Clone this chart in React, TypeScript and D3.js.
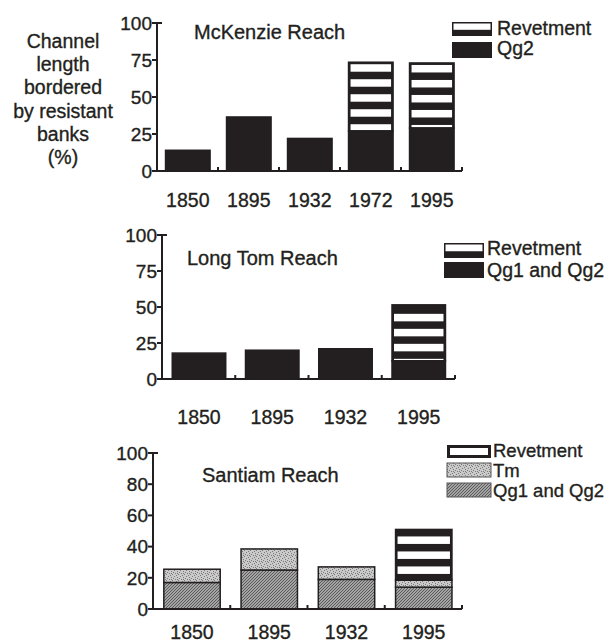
import React, { useEffect, useRef } from 'react';
import * as d3 from 'd3';

// McKenzie Reach
const mckenzieYears = ['1850', '1895', '1932', '1972', '1995'];
const mckenzieQg2 = [14, 36.5, 22, 27, 29];
const mckenzieRevetment = [0, 0, 0, 46.5, 44];
const mckenzieTicks = [0, 25, 50, 75, 100];

// Long Tom Reach
const longTomYears = ['1850', '1895', '1932', '1995'];
const longTomQg = [18, 20, 21, 12.5];
const longTomRevetment = [0, 0, 0, 39];
const longTomTicks = [0, 25, 50, 75, 100];

// Santiam Reach
const santiamYears = ['1850', '1895', '1932', '1995'];
const santiamQg = [17, 25, 19, 14];
const santiamTm = [8.5, 13.5, 8, 4.5];
const santiamRevetment = [0, 0, 0, 32.5];
const santiamTicks = [0, 20, 40, 60, 80, 100];

const yLabelLines = ['Channel', 'length', 'bordered', 'by resistant', 'banks', '(%)'];

const INK = '#231f20';
const FONT = '"Liberation Sans", Arial, Helvetica, sans-serif';

// series are listed bottom-to-top in stack order
const panels = [
  {
    title: 'McKenzie Reach',
    years: mckenzieYears,
    ticks: mckenzieTicks,
    series: [
      { key: 'qg', label: 'Qg2', values: mckenzieQg2 },
      { key: 'rev', label: 'Revetment', values: mckenzieRevetment },
    ],
    solidQg: true,
    x0: 157, x1: 462, yTop: 23, yBottom: 171,
    titleX: 194, titleY: 32, yearY: 200,
    stripeOffset: 2,
    legendX: 452, legendW: 40, legendTextX: 497, legendFs: 19.5,
    legendY: [22, 42], legendH: [14, 16], legendTextY: [28, 48],
    revLegend: 'half',
  },
  {
    title: 'Long Tom Reach',
    years: longTomYears,
    ticks: longTomTicks,
    series: [
      { key: 'qg', label: 'Qg1 and Qg2', values: longTomQg },
      { key: 'rev', label: 'Revetment', values: longTomRevetment },
    ],
    solidQg: true,
    x0: 162, x1: 455, yTop: 235, yBottom: 379,
    titleX: 187, titleY: 258, yearY: 417,
    stripeOffset: 9,
    legendX: 444, legendW: 40, legendTextX: 487, legendFs: 19.5,
    legendY: [243, 262], legendH: [15, 16], legendTextY: [248, 270],
    revLegend: 'half',
  },
  {
    title: 'Santiam Reach',
    years: santiamYears,
    ticks: santiamTicks,
    series: [
      { key: 'qg', label: 'Qg1 and Qg2', values: santiamQg },
      { key: 'tm', label: 'Tm', values: santiamTm },
      { key: 'rev', label: 'Revetment', values: santiamRevetment },
    ],
    solidQg: false,
    x0: 153, x1: 462, yTop: 453, yBottom: 609,
    titleX: 202, titleY: 475, yearY: 632,
    stripeOffset: 7,
    legendX: 447, legendW: 44, legendTextX: 493, legendFs: 18.5,
    legendY: [445, 463, 483], legendH: [13, 14, 14], legendTextY: [450, 470, 490],
    revLegend: 'frame',
  },
];

const App = () => {
  const svgRef = useRef(null);

  useEffect(() => {
    const svg = d3.select(svgRef.current);
    svg.selectAll('*').remove();

    const txt = (sel, fs) => sel
      .attr('font-family', FONT).attr('font-size', fs).attr('fill', INK)
      .attr('stroke', INK).attr('stroke-width', 0.35);

    // stipple textures for Tm and Qg
    const defs = svg.append('defs');
    const tm = defs.append('pattern').attr('id', 'pat-tm')
      .attr('patternUnits', 'userSpaceOnUse').attr('width', 6).attr('height', 6);
    tm.append('rect').attr('width', 6).attr('height', 6).attr('fill', '#cacaca');
    [[0, 0], [3, 1], [5, 2], [1, 3], [4, 4], [2, 5], [3, 3]].forEach(([a, b]) =>
      tm.append('rect').attr('x', a).attr('y', b).attr('width', 1).attr('height', 1).attr('fill', '#7a7a7a'));
    const qg = defs.append('pattern').attr('id', 'pat-qg')
      .attr('patternUnits', 'userSpaceOnUse').attr('width', 6).attr('height', 6);
    qg.append('rect').attr('width', 6).attr('height', 6).attr('fill', '#a4a4a4');
    [[5, 0], [2, 0], [4, 1], [1, 1], [3, 2], [0, 2], [5, 3], [2, 3], [1, 4], [4, 4], [0, 5], [3, 5]]
      .forEach(([a, b]) =>
        qg.append('rect').attr('x', a).attr('y', b).attr('width', 1).attr('height', 1).attr('fill', '#5a5a5a'));

    // y axis title
    txt(svg.append('text'), 19.5)
      .attr('text-anchor', 'middle')
      .selectAll('tspan')
      .data(yLabelLines)
      .join('tspan')
      .attr('x', 63)
      .attr('y', (d, i) => 48 + i * 23.2)
      .text(d => d);

    const fillFor = (p, key) => {
      if (key === 'tm') return 'url(#pat-tm)';
      if (key === 'qg') return p.solidQg ? INK : 'url(#pat-qg)';
      return INK;
    };

    panels.forEach(p => {
      const g = svg.append('g');
      const x = d3.scaleBand().domain(p.years).range([p.x0, p.x1]);
      const y = d3.scaleLinear().domain([0, 100]).range([p.yBottom, p.yTop]);
      const step = x.step();
      const barX = d => x(d) + step * 0.14;
      const barW = step * 0.73;

      const rows = p.years.map((yr, i) => {
        const r = { year: yr };
        p.series.forEach(s => { r[s.key] = s.values[i]; });
        return r;
      });
      const stacked = d3.stack().keys(p.series.map(s => s.key))(rows);

      stacked.forEach(layer => {
        layer.forEach(d => {
          const top = y(d[1]);
          const bot = y(d[0]);
          if (bot - top <= 0) return;
          const bx = barX(d.data.year);
          g.append('rect')
            .attr('x', bx).attr('y', top).attr('width', barW).attr('height', bot - top)
            .attr('fill', fillFor(p, layer.key))
            .attr('stroke', INK).attr('stroke-width', 1.5);
          if (layer.key === 'rev') {
            // horizontal white stripes of the revetment
            for (let s = top + p.stripeOffset; s < bot - 1.5; s += 15) {
              const s0 = Math.max(s, top + 1.5);
              const s1 = Math.min(s + 7.5, bot - 1);
              if (s1 - s0 < 0.8) continue;
              g.append('rect')
                .attr('x', bx + 2).attr('y', s0).attr('width', barW - 4).attr('height', s1 - s0)
                .attr('fill', '#fff');
            }
          }
        });
      });

      // y axis
      g.append('line')
        .attr('x1', p.x0).attr('x2', p.x0).attr('y1', y(0)).attr('y2', y(100))
        .attr('stroke', INK).attr('stroke-width', 2);
      g.selectAll('.ytick')
        .data(p.ticks)
        .join('line')
        .attr('x1', p.x0 - 5).attr('x2', d => (d === 100 ? p.x0 + 5 : p.x0))
        .attr('y1', d => y(d)).attr('y2', d => y(d))
        .attr('stroke', INK).attr('stroke-width', 2);
      txt(g.selectAll('.ylab').data(p.ticks).join('text'), 19)
        .attr('x', p.x0 - 5).attr('y', d => y(d)).attr('dy', '0.36em')
        .attr('text-anchor', 'end')
        .text(d => d);

      // x axis with small ticks between bars
      g.append('line')
        .attr('x1', p.x0).attr('x2', p.x1).attr('y1', y(0)).attr('y2', y(0))
        .attr('stroke', INK).attr('stroke-width', 2);
      g.selectAll('.xtick')
        .data(p.years)
        .join('line')
        .attr('x1', d => x(d) + step).attr('x2', d => x(d) + step)
        .attr('y1', y(0)).attr('y2', y(0) - 4)
        .attr('stroke', INK).attr('stroke-width', 2);
      txt(g.selectAll('.xlab').data(p.years).join('text'), 19.5)
        .attr('x', d => barX(d) + barW / 2).attr('y', p.yearY).attr('dy', '0.36em')
        .attr('text-anchor', 'middle')
        .text(d => d);

      // panel title
      txt(g.append('text'), 20)
        .attr('x', p.titleX).attr('y', p.titleY).attr('dy', '0.36em')
        .text(p.title);

      // legend, top item is the top of the stack
      const items = [...p.series].reverse();
      items.forEach((s, i) => {
        const ly = p.legendY[i];
        const lh = p.legendH[i];
        if (s.key === 'rev') {
          g.append('rect').attr('x', p.legendX).attr('y', ly).attr('width', p.legendW).attr('height', lh)
            .attr('fill', INK);
          if (p.revLegend === 'half') {
            g.append('rect').attr('x', p.legendX + 1.5).attr('y', ly + 1.5)
              .attr('width', p.legendW - 3).attr('height', lh * 0.45).attr('fill', '#fff');
          } else {
            g.append('rect').attr('x', p.legendX + 3).attr('y', ly + 3)
              .attr('width', p.legendW - 6).attr('height', lh - 6).attr('fill', '#fff');
          }
        } else {
          g.append('rect').attr('x', p.legendX).attr('y', ly).attr('width', p.legendW).attr('height', lh)
            .attr('fill', fillFor(p, s.key))
            .attr('stroke', p.solidQg ? 'none' : '#555').attr('stroke-width', 1);
        }
        txt(g.append('text'), p.legendFs)
          .attr('x', p.legendTextX).attr('y', p.legendTextY[i]).attr('dy', '0.36em')
          .text(s.label);
      });
    });
  }, []);

  return (
    <svg
      ref={svgRef}
      width={615}
      height={643}
      style={{ position: 'absolute', left: 0, top: 0, background: '#fff' }}
    />
  );
};

export default App;
